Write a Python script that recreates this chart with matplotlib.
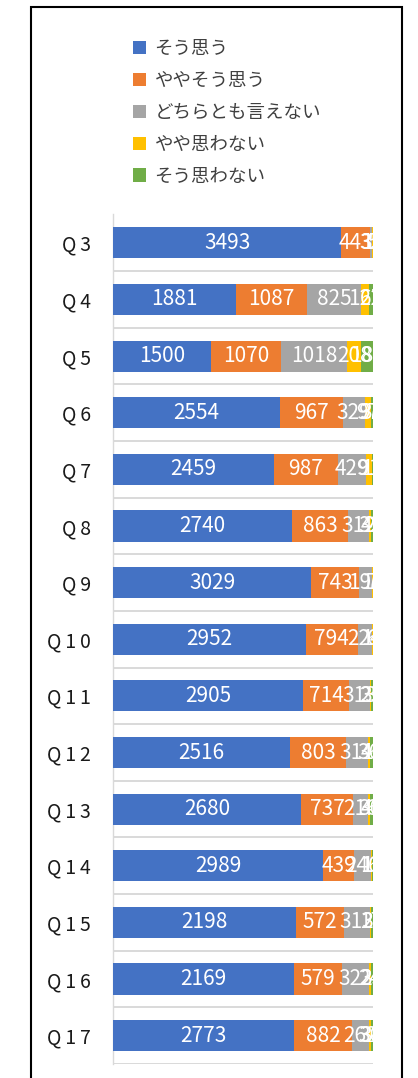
import numpy as np
import matplotlib
matplotlib.use("Agg")
import matplotlib.pyplot as plt
import matplotlib.patches as patches

plt.rcParams['font.family'] = ['Noto Sans CJK JP', 'DejaVu Sans']

# questions, top to bottom
questions = ["Q3", "Q4", "Q5", "Q6", "Q7", "Q8", "Q9", "Q10", "Q11", "Q12",
             "Q13", "Q14", "Q15", "Q16", "Q17"]
series_names = ["そう思う", "ややそう思う", "どちらとも言えない", "やや思わない", "そう思わない"]
colors = ["#4472C4", "#ED7D31", "#A5A5A5", "#FFC000", "#70AD47"]

# counts per answer
sou = [3493, 1881, 1500, 2554, 2459, 2740, 3029, 2952, 2905, 2516, 2680, 2989, 2198, 2169, 2773]
yaya_sou = [443, 1087, 1070, 967, 987, 863, 743, 794, 714, 803, 737, 439, 572, 579, 882]
dochira = [35, 825, 1018, 329, 429, 312, 196, 224, 313, 311, 216, 246, 313, 322, 262]
yaya_not = [12, 127, 208, 97, 91, 32, 12, 12, 25, 36, 30, 12, 17, 24, 30]
not_at_all = [5, 62, 188, 37, 17, 40, 7, 6, 30, 40, 40, 14, 26, 33, 37]

counts = np.array([sou, yaya_sou, dochira, yaya_not, not_at_all], dtype=float)
shares = counts / counts.sum(axis=0)

W, H = 418, 1078
fig = plt.figure(figsize=(W / 100, H / 100), dpi=100)
ax = fig.add_axes([113.3 / W, 14 / H, 260 / W, (1064 - 214.5) / H])

y = np.arange(len(questions))
left = np.zeros(len(questions))
for i, name in enumerate(series_names):
    bars = ax.barh(y, shares[i], left=left, height=0.55, color=colors[i],
                   label=name, zorder=3)
    ax.bar_label(bars, labels=[str(int(v)) for v in counts[i]], label_type='center',
                 color='white', fontsize=15, zorder=4)
    left += shares[i]

ax.set_xlim(0, 1)
ax.set_ylim(len(questions) - 0.5, -0.5)
ax.set_yticks(y)
# spaced-out labels like the original
ax.set_yticklabels(["\u2009".join(q) for q in questions], fontsize=14, color='#1a1a1a')
ax.tick_params(axis='y', length=0, pad=16)
ax.set_xticks([])
ax.set_yticks(np.arange(0.5, len(questions)), minor=True)
ax.tick_params(axis='y', which='minor', length=0)
ax.grid(axis='y', which='minor', color='#d9d9d9', linewidth=1.4, zorder=0)
for s in ['top', 'right', 'bottom']:
    ax.spines[s].set_visible(False)
ax.spines['left'].set_color('#d9d9d9')
ax.spines['left'].set_linewidth(1.0)

leg = fig.legend(loc='upper left', bbox_to_anchor=(133 / W, 1 - 40 / H),
                 frameon=False, ncol=1, fontsize=13.3, handlelength=0.72,
                 handleheight=0.72, handletextpad=0.45, labelspacing=0.75,
                 borderpad=0, borderaxespad=0)
for t in leg.get_texts():
    t.set_color('#404040')

# outer chart frame
fig.add_artist(patches.Rectangle((31 / W, -0.05), (402 - 31) / W, 1 - 7 / H + 0.05,
                                 transform=fig.transFigure, fill=False,
                                 edgecolor='black', linewidth=1.5))

fig.savefig("out.png", dpi=100)
